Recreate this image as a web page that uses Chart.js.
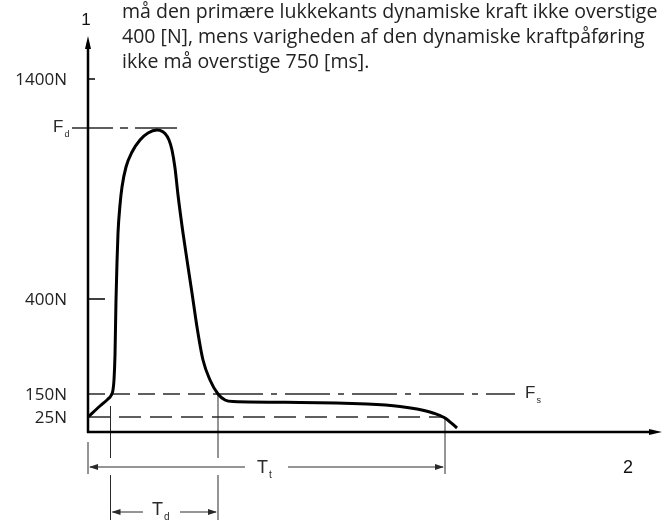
<!DOCTYPE html>
<html>
<head>
<meta charset="utf-8">
<script src="https://cdn.jsdelivr.net/npm/chart.js@4.4.1/dist/chart.umd.min.js"></script>
<style>
  html, body { margin: 0; padding: 0; background: #fff; }
  #wrap { width: 668px; height: 520px; position: relative; }
</style>
</head>
<body>
<div id="wrap"><canvas id="forceChart"></canvas></div>
<script>
// note printed above the diagram
const noteLines = [
  'må den primære lukkekants dynamiske kraft ikke overstige',
  '400 [N], mens varigheden af den dynamiske kraftpåføring',
  'ikke må overstige 750 [ms].'
];

// force/time curve of the closing edge (schematic diagram units)
const curveTime = [0, 2.4, 4.0, 4.6, 5.0, 5.2, 5.4, 5.6, 5.8, 6.0, 6.4, 6.8, 7.6, 8.8, 10.4, 12.0,
  13.8, 14.4, 15.4, 16.2, 16.8, 17.4, 18.0, 19.0, 19.8, 20.8, 21.8, 23.0, 24.4, 26.0, 27.4, 29.0, 42.4,
  55.8, 62.4, 65.8, 69.0, 71.4, 73.8];
const curveForce = [3.75, 6.5, 8.25, 9.1, 10.5, 13, 19.25, 33, 42.5, 49.75, 56.75, 61.25, 66.25, 70, 73, 74.75,
  75.5, 75.4, 74.6, 73, 70.5, 66, 59.25, 49.75, 43, 34.75, 26.25, 18, 13, 9.5, 8, 7.6, 7.4,
  7, 6.4, 5.75, 4.75, 3.5, 1];

// force levels on the vertical axis
const levelLabels = ['25N', '150N', '400N', '1400N'];
const levelValues = [3.75, 9.5, 33.25, 88.25];
const peakLevel = 76; // F_d

// time marks: start, F_s crossed going up, F_s crossed going down, 25N crossed at the end
const markTimes = [0, 4.5, 26, 71.4];

const INK = '#000';
const GREY = '#2a2a2a';
const TEXT_FONT = '"Open Sans", "Lato", sans-serif';
const SYM_FONT = '"Liberation Sans", Arial, sans-serif';

function seg(ctx, x1, y1, x2, y2, dash, width, color) {
  ctx.save();
  ctx.beginPath();
  ctx.setLineDash(dash || []);
  ctx.lineWidth = width || 1;
  ctx.strokeStyle = color || GREY;
  ctx.moveTo(x1, y1);
  ctx.lineTo(x2, y2);
  ctx.stroke();
  ctx.restore();
}

// filled arrow head, tip at (x, y), pointing along (dx, dy)
function head(ctx, x, y, dx, dy, len, half, color) {
  ctx.save();
  ctx.fillStyle = color || GREY;
  ctx.beginPath();
  ctx.moveTo(x, y);
  ctx.lineTo(x - dx * len - dy * half, y - dy * len + dx * half);
  ctx.lineTo(x - dx * len + dy * half, y - dy * len - dx * half);
  ctx.closePath();
  ctx.fill();
  ctx.restore();
}

function symbol(ctx, main, sub, x, y, size, color) {
  ctx.save();
  ctx.fillStyle = color || GREY;
  ctx.textAlign = 'left';
  ctx.textBaseline = 'alphabetic';
  ctx.font = size + 'px ' + SYM_FONT;
  ctx.fillText(main, x, y);
  const w = ctx.measureText(main).width;
  ctx.font = Math.round(size * 0.55) + 'px ' + SYM_FONT;
  ctx.fillText(sub, x + w + 1, y + 5);
  ctx.restore();
}

const diagramPlugin = {
  id: 'diagram',
  beforeDatasetsDraw(chart) {
    const ctx = chart.ctx;
    const area = chart.chartArea;
    const X = v => chart.scales.x.getPixelForValue(v);
    const Y = v => chart.scales.y.getPixelForValue(v);
    const x0 = X(0), y0 = Y(0);

    // note text
    ctx.save();
    ctx.fillStyle = '#222';
    ctx.font = '19.5px ' + TEXT_FONT;
    ctx.textBaseline = 'alphabetic';
    noteLines.forEach((t, i) => ctx.fillText(t, 122, 18 + i * 25));
    ctx.restore();

    // F_d reference line
    const yd = Y(peakLevel);
    seg(ctx, x0 - 16, yd, X(curveTime[16]) + 20, yd, [41, 7, 8, 7, 60], 1.5);
    symbol(ctx, 'F', 'd', x0 - 35, yd + 4, 17);

    // F_s (150N) line: dashed up to the falling edge, dash-dot after it
    const ys = Y(levelValues[1]);
    seg(ctx, x0, ys, X(markTimes[2]), ys, [17, 8], 1.5);
    seg(ctx, X(markTimes[2]), ys, X(markTimes[2]) + 297, ys, [45, 8, 6, 8], 1.5);
    symbol(ctx, 'F', 's', X(markTimes[2]) + 307, ys + 4, 17);

    // 25N line up to the end of the curve
    const y25 = Y(levelValues[0]);
    seg(ctx, x0, y25, X(markTimes[3]), y25, [22, 9], 1.5);

    // extension lines for the time dimensions
    const tt = y0 + 35, td = y0 + 80;
    seg(ctx, x0, y0 + 10, x0, tt + 7, null, 1);
    seg(ctx, X(markTimes[1]), Y(6.5), X(markTimes[1]), tt - 9, null, 1);
    seg(ctx, X(markTimes[1]), tt + 8, X(markTimes[1]), 520, null, 1);
    seg(ctx, X(markTimes[2]), ys, X(markTimes[2]), tt - 9, null, 1);
    seg(ctx, X(markTimes[2]), tt + 8, X(markTimes[2]), 520, null, 1);
    seg(ctx, X(markTimes[3]), y25, X(markTimes[3]), tt + 7, null, 1);

    // T_t dimension
    seg(ctx, x0 + 2, tt, 245, tt, null, 1);
    seg(ctx, 288, tt, X(markTimes[3]) - 2, tt, null, 1);
    head(ctx, x0 + 1, tt, -1, 0, 9, 3);
    head(ctx, X(markTimes[3]) - 1, tt, 1, 0, 9, 3);
    symbol(ctx, 'T', 't', 257, tt + 6, 18);

    // T_d dimension
    seg(ctx, X(markTimes[1]) + 2, td, 143, td, null, 1);
    seg(ctx, 180, td, X(markTimes[2]) - 2, td, null, 1);
    head(ctx, X(markTimes[1]) + 1, td, -1, 0, 9, 3);
    head(ctx, X(markTimes[2]) - 1, td, 1, 0, 9, 3);
    symbol(ctx, 'T', 'd', 152, td + 3, 18);

    // axes with arrows
    seg(ctx, x0, y0 + 1, x0, area.top + 8, null, 2.5, INK);
    head(ctx, x0, area.top - 4, 0, -1, 13, 3, INK);
    seg(ctx, x0 - 1, y0, area.right - 10, y0, null, 2.5, INK);
    head(ctx, area.right, y0, 1, 0, 13, 3, INK);

    // ticks and force labels
    const tickLen = { '400N': 17, '1400N': 7 };
    ctx.save();
    ctx.fillStyle = '#222';
    ctx.font = '17px ' + TEXT_FONT;
    ctx.textAlign = 'right';
    ctx.textBaseline = 'middle';
    levelLabels.forEach((lab, i) => {
      const y = Y(levelValues[i]);
      if (tickLen[lab]) seg(ctx, x0, y, x0 + tickLen[lab], y, null, 1.5, INK);
      ctx.fillText(lab, x0 - 21, y + 1);
    });
    ctx.restore();

    // axis numbers
    ctx.save();
    ctx.fillStyle = '#111';
    ctx.textAlign = 'center';
    ctx.font = '17px ' + SYM_FONT;
    ctx.fillText('1', x0 - 2, 25);
    ctx.font = '18px ' + SYM_FONT;
    ctx.fillText('2', 628, y0 + 41);
    ctx.restore();
  }
};

new Chart(document.getElementById('forceChart'), {
  type: 'line',
  data: {
    datasets: [{
      data: curveTime.map((t, i) => ({ x: t, y: curveForce[i] })),
      borderColor: INK,
      borderWidth: 3,
      pointRadius: 0,
      fill: false,
      cubicInterpolationMode: 'monotone',
      clip: false
    }]
  },
  options: {
    responsive: true,
    maintainAspectRatio: false,
    animation: false,
    events: [],
    layout: { padding: { left: 88, right: 6, top: 40, bottom: 88 } },
    scales: {
      x: { type: 'linear', min: 0, max: 114.8, display: false },
      y: { type: 'linear', min: 0, max: 98, display: false }
    },
    plugins: {
      legend: { display: false },
      tooltip: { enabled: false }
    }
  },
  plugins: [diagramPlugin]
});
</script>
</body>
</html>
